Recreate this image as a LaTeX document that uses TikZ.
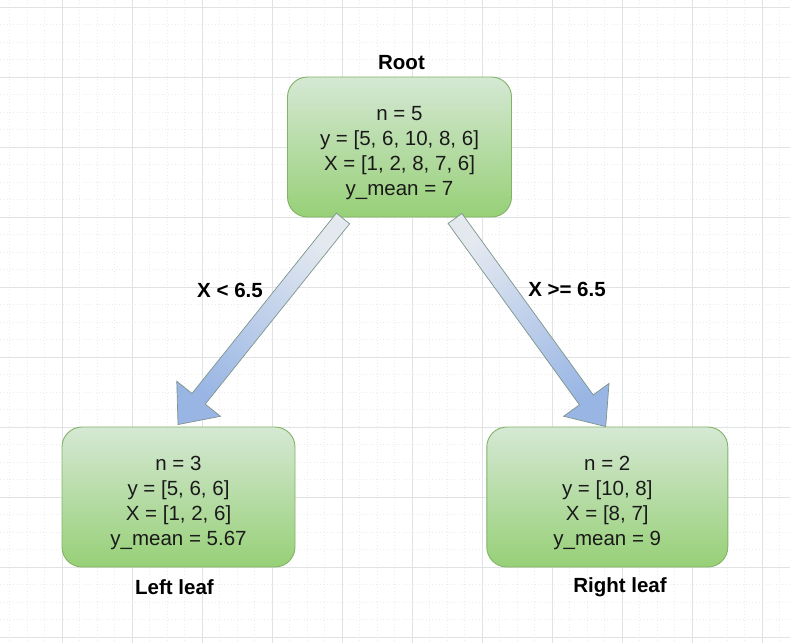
\documentclass[tikz,border=0pt]{standalone}
\usepackage{fontspec}
\setmainfont{Liberation Sans}
\usetikzlibrary{calc}
\definecolor{boxtop}{HTML}{D5E8D4}
\definecolor{boxbot}{HTML}{97D077}
\definecolor{boxline}{HTML}{82B366}
\definecolor{arrtail}{HTML}{E4E9F0}
\definecolor{arrhead}{HTML}{98B5E4}
\definecolor{arrline}{HTML}{7E948C}
\definecolor{gridmajor}{HTML}{E0E3E3}
\definecolor{gridminor}{HTML}{ECECEC}
\definecolor{txt}{HTML}{1A1A1A}
\newcommand\drawblockarrow[3]{%
  \coordinate (#2h) at ($(#2)!33pt!(#1)$);
  \shade[blockarrow, shading angle=#3]
    ($(#1)!8.5pt!90:(#2)$) -- ($(#2h)!8.5pt!90:(#2)$) -- ($(#2h)!28pt!90:(#2)$)
    -- (#2) -- ($(#2h)!28pt!-90:(#2)$) -- ($(#2h)!8.5pt!-90:(#2)$)
    -- ($(#1)!8.5pt!-90:(#2)$) -- cycle;}
\newcommand\topstrut{\rule{0pt}{25.5pt}}
\begin{document}
\begin{tikzpicture}[x=1pt,y=-1pt,
  treebox/.style={draw=boxline, line width=0.9pt, rounded corners=20pt,
    top color=boxtop, bottom color=boxbot, minimum height=140pt,
    inner sep=0pt, align=center, text=txt, font=\fontsize{20.5}{25}\selectfont},
  caption/.style={font=\bfseries\fontsize{20.5}{25}\selectfont, text=black, inner sep=0pt},
  blockarrow/.style={draw=arrline, line width=0.7pt, top color=arrtail, bottom color=arrhead},
  gridmin/.style={draw=gridminor, line width=0.7pt, dash pattern=on 0.8pt off 2.5pt},
  gridmaj/.style={draw=gridmajor, line width=0.8pt}]
\fill[white] (0,0) rectangle (790,643);
\useasboundingbox (0,0) rectangle (790,643);
\begin{scope}
\clip (0,0) rectangle (790,643);
\foreach \i in {0,...,46} {
  \draw[gridmin] ({-7.7+17.5*\i},0) -- ({-7.7+17.5*\i},643);
  \draw[gridmin] (0,{7.3+17.5*\i-17.5}) -- (790,{7.3+17.5*\i-17.5});
}
\foreach \i in {0,...,12} {
  \draw[gridmaj] ({-7.7+70*\i},0) -- ({-7.7+70*\i},643);
  \draw[gridmaj] (0,{7.3+70*\i}) -- (790,{7.3+70*\i});
}
\end{scope}

\node[treebox, minimum width=224pt] (root) at (399.5,147)
  {\topstrut n = 5\\y = [5, 6, 10, 8, 6]\\X = [1, 2, 8, 7, 6]\\y\_mean = 7};
\node[treebox, minimum width=233pt] (left) at (178.5,497)
  {\topstrut n = 3\\y = [5, 6, 6]\\X = [1, 2, 6]\\y\_mean = 5.67};
\node[treebox, minimum width=241pt] (right) at (607.3,497)
  {\topstrut n = 2\\y = [10, 8]\\X = [8, 7]\\y\_mean = 9};

\node[caption] (rootlab) at (401.5,62.5) {Root};
\node[caption] (leftlab) at (174.5,587) {Left leaf};
\node[caption] (rightlab) at (620,587) {Right leaf};

\coordinate (lt) at ($(root.south)+(-56.5,1)$);
\coordinate (lp) at ($(left.north)+(-0.5,-2)$);
\coordinate (rt) at ($(root.south)+(55.5,1)$);
\coordinate (rp) at ($(right.north)+(-1.6,0)$);
\drawblockarrow{lt}{lp}{-38.5}
\drawblockarrow{rt}{rp}{35.8}

\node[caption] (leftcond) at (230,290) {X < 6.5};
\node[caption] (rightcond) at (567,289) {X >= 6.5};
\end{tikzpicture}
\end{document}
